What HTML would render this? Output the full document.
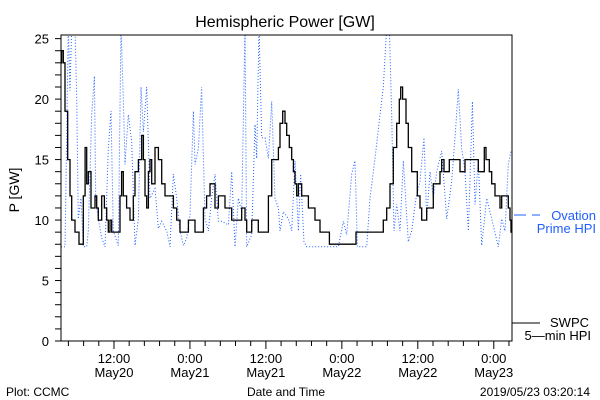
<!DOCTYPE html>
<html><head><meta charset="utf-8"><style>
html,body{margin:0;padding:0;background:#fff;}
svg{display:block;font-family:"Liberation Sans",sans-serif;}
</style></head><body>
<svg id="chart" width="600" height="400" viewBox="0 0 600 400">
<rect x="0" y="0" width="600" height="400" fill="#fff"/>
<text x="285" y="27" font-size="16" text-anchor="middle">Hemispheric Power [GW]</text>
<text transform="translate(19,190) rotate(-90)" font-size="14" text-anchor="middle">P [GW]</text>
<text x="6" y="396" font-size="12">Plot: CCMC</text>
<text x="286" y="396" font-size="12" text-anchor="middle">Date and Time</text>
<text x="590" y="396" font-size="12" text-anchor="end">2019/05/23 03:20:14</text>
<g id="plot"></g>
<g>
<line x1="514" y1="215" x2="526" y2="215" stroke="#1f5fff" stroke-width="1"/>
<line x1="532" y1="215" x2="540" y2="215" stroke="#1f5fff" stroke-width="1"/>
<text x="596" y="220" font-size="13" fill="#1f5fff" text-anchor="end">Ovation</text>
<text x="596" y="233" font-size="13" fill="#1f5fff" text-anchor="end">Prime HPI</text>
<line x1="512" y1="323" x2="540" y2="323" stroke="#000" stroke-width="1"/>
<text x="589" y="327" font-size="13" text-anchor="end">SWPC</text>
<text x="591" y="340" font-size="13" text-anchor="end">5—min HPI</text>
</g>
</svg>
<script>
const swpcHours=[3.63,3.74,4.0,4.26,4.69,5.05,5.32,5.84,6.48,6.9,7.16,7.43,7.69,7.95,8.37,8.74,9.0,9.27,9.53,10.06,10.48,10.85,11.11,11.37,11.64,12.43,12.95,13.21,13.48,14.0,14.53,15.06,15.32,15.85,16.38,16.64,16.9,17.17,17.43,17.69,17.96,18.48,19.01,19.54,20.06,20.85,21.38,21.91,22.43,23.49,23.75,24.28,24.8,25.6,26.12,26.64,27.17,27.7,27.96,28.49,29.54,30.59,31.9,32.17,32.7,32.96,33.75,34.54,34.8,35.86,36.39,36.91,37.44,37.97,38.23,38.65,39.02,39.28,39.7,40.07,40.34,40.6,40.86,41.13,41.65,42.71,43.76,44.55,46.03,50.24,54.55,55.08,55.6,56.13,56.66,57.08,57.29,57.6,58.14,58.5,59.03,59.92,60.35,60.61,61.4,62.45,63.5,63.77,64.14,64.98,66.67,67.46,69.56,70.51,70.78,71.3,71.67,72.2,72.98,73.25,74.3,74.57,74.72,74.88];
const swpcValues=[23,24,23,19,15,12,10,9,8,8,12,16,13,14,11,11,12,11,10,12,11,10,9,10,9,9,12,14,12,11,10,12,14,15,17,15,12,11,14,15,13,16,15,13,12,12,11,10,9,9,10,10,9,9,11,12,13,13,11,12,11,10,10,11,10,9,10,10,9,9,12,15,15,16,18,19,18,17,16,15,14,13,12,13,12,11,10,9,8,9,10,11,13,16,18,20,21,20,18,16,14,12,11,10,11,13,14,15,14,15,14,15,14,16,15,14,13,12,11,12,11,10,9,10];
const ovationHours=[3.63,4.26,4.79,5.05,5.32,5.58,5.84,6.11,6.37,6.79,7.16,7.69,7.95,8.48,8.9,9.11,9.53,10.06,10.58,11.11,11.53,11.9,12.69,13.11,13.48,13.74,14.27,14.8,15.32,15.85,16.27,16.64,17.17,17.69,18.48,19.01,19.54,20.33,20.85,21.38,21.91,22.43,22.96,23.49,24.01,24.54,24.8,25.33,25.85,26.38,26.91,27.43,27.96,28.49,29.01,30.07,30.59,31.12,31.65,32.17,32.7,32.96,33.75,34.28,34.54,34.91,35.33,35.86,36.39,36.91,37.44,37.97,38.23,38.76,39.55,40.07,40.6,41.13,41.49,42.02,42.44,46.13,47.45,48.23,48.76,49.55,50.08,50.45,51.92,52.45,53.24,54.03,54.55,55.08,55.5,55.87,56.24,56.66,57.18,57.71,58.5,59.03,59.72,60.35,60.98,61.4,61.93,62.45,62.98,63.77,64.56,65.35,65.88,66.4,66.93,67.46,67.99,68.62,69.04,69.56,70.09,70.88,71.67,72.72,73.25,73.78,74.3,74.72];
const ovationValues=[7.8,7.8,26,20.7,26,26,26,20.1,10.1,11.8,7.8,7.8,9.1,18.7,21.9,11.8,10.1,8.5,7.8,15.9,19.0,9.1,7.9,26,20.1,14.6,18.7,16.5,7.9,10.1,21.0,17.3,21.0,11.8,12.6,9.3,9.9,9.1,7.8,13.8,11.8,9.1,7.9,8.5,10.4,19.0,14.6,15.9,21.0,10.1,9.1,11.8,13.8,9.9,9.9,9.6,14.0,7.8,11.8,10.7,26,7.8,8.8,17.9,15.1,26,16.8,16.8,15.1,19.8,11.8,11.0,9.1,10.7,10.1,9.1,14.9,9.1,13.8,8.2,7.8,7.8,7.8,9.9,8.8,13.8,14.9,7.8,7.8,11.8,15.1,18.7,21.0,26,26,18.7,9.1,11.3,9.1,14.9,8.2,9.1,11.8,13.2,16.8,10.1,14.0,11.8,14.0,15.7,10.1,13.2,16.8,20.8,15.9,14.0,9.1,19.8,11.3,14.9,7.9,11.8,10.1,7.8,10.1,9.1,14.6,15.7];
const yTicks=[0,5,10,15,20,25];
const xTickHours=[12,24,36,48,60,72];
const xTickTimes=["12:00","0:00","12:00","0:00","12:00","0:00"];
const xTickDates=["May20","May21","May21","May22","May22","May23"];

const L=61,R=512,T=35,B=341,H0=3.63,H1=74.88,V0=0,V1=25.3;
const xs=h=>L+(h-H0)/(H1-H0)*(R-L);
const ys=v=>B-(v-V0)/(V1-V0)*(B-T);
const NS="http://www.w3.org/2000/svg";
const g=document.getElementById('plot');
function mk(t,a){const e=document.createElementNS(NS,t);for(const k in a)e.setAttribute(k,a[k]);g.appendChild(e);return e;}

const clip=document.createElementNS(NS,'clipPath');clip.setAttribute('id','pc');
const cr=document.createElementNS(NS,'rect');cr.setAttribute('x',L);cr.setAttribute('y',T);cr.setAttribute('width',R-L);cr.setAttribute('height',B-T);
clip.appendChild(cr);g.appendChild(clip);

// ovation dotted
let d='';
for(let i=0;i<ovationHours.length;i++){d+=(i?'L':'M')+xs(ovationHours[i]).toFixed(1)+','+ys(ovationValues[i]).toFixed(1);}
const ov=mk('path',{d:d,fill:'none',stroke:'#1f5fff','stroke-width':1,'stroke-dasharray':'1 2','clip-path':'url(#pc)'});



// swpc step line
d='';
for(let i=0;i<swpcHours.length;i++){
  const x=xs(swpcHours[i]).toFixed(1),y=ys(swpcValues[i]).toFixed(1);
  if(i===0)d+='M'+x+','+y;else d+='H'+x+'V'+y;
}
const sw=mk('path',{d:d,fill:'none',stroke:'#000','stroke-width':1.3,'clip-path':'url(#pc)'});



// frame
const fr=mk('rect',{x:L,y:T,width:R-L,height:B-T,fill:'none',stroke:'#000','stroke-width':1});



// y ticks
for(let v=0;v<=25;v++){
  const t=mk('line',{x1:L-6,x2:L,y1:ys(v),y2:ys(v),stroke:'#000'});
  
  
}
yTicks.forEach(v=>{
  const t=mk('text',{x:L-12,y:ys(v)+5,'font-size':13,'text-anchor':'end'});
  t.textContent=v;
  
  
});
// x ticks: minor every 2.4h
for(let h=0;h<=84;h+=2.4){
  if(h<H0-0.01||h>H1+0.01)continue;
  const major=Math.abs(h/12-Math.round(h/12))<0.01;
  const t=mk('line',{x1:xs(h),x2:xs(h),y1:B,y2:B+(major?8:5),stroke:'#000'});
  
  
}
xTickHours.forEach((h,i)=>{
  const t1=mk('text',{x:xs(h),y:363,'font-size':13,'text-anchor':'middle'});
  t1.textContent=xTickTimes[i];
  
  
  const t2=mk('text',{x:xs(h),y:377,'font-size':13,'text-anchor':'middle'});
  t2.textContent=xTickDates[i];
  
  
});
</script>
</body></html>
